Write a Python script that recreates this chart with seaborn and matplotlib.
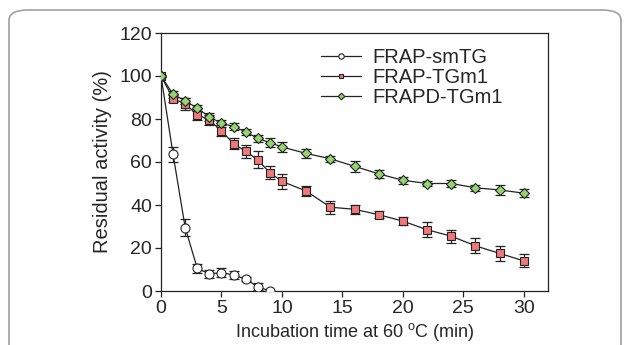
import matplotlib.pyplot as plt
import pandas as pd
import seaborn as sns
from matplotlib.patches import FancyBboxPatch

# Data
time_sm = [0, 1, 2, 3, 4, 5, 6, 7, 8, 9]
act_sm = [100, 63.5, 29.5, 10.5, 8, 8.5, 7.5, 5.5, 2, 0]
err_sm = [0, 3.5, 4, 2, 2, 2, 2, 1, 1.5, 0]

time_tg = [0, 1, 2, 3, 4, 5, 6, 7, 8, 9, 10, 12, 14, 16, 18, 20, 22, 24, 26, 28, 30]
act_tgm1 = [100, 89.5, 87, 82, 79.5, 74.5, 68.5, 65, 61, 55, 51, 46.5, 39, 38,
            35.5, 32.5, 28.5, 25.5, 21, 17.5, 14]
err_tgm1 = [0, 1.5, 3, 2.5, 2.5, 2.5, 2.5, 3, 4, 3, 3.5, 2.5, 3, 2, 1.5, 2,
            3.5, 3, 3.5, 3.5, 3]
act_frapd = [100, 91.5, 88.5, 85, 81, 78, 76.5, 74, 71, 69, 67, 64, 61.5, 58,
             54.5, 51.5, 50, 50, 48, 47, 45.5]
err_frapd = [0, 1.5, 1.5, 1.5, 2, 1.5, 1.5, 1.5, 1.5, 2, 2.5, 2, 1.5, 2.5,
             2, 1.5, 1, 1.5, 1.5, 2.5, 2]

series = ["FRAP-smTG", "FRAP-TGm1", "FRAPD-TGm1"]
x_ticks = [0, 5, 10, 15, 20, 25, 30]
y_ticks = [0, 20, 40, 60, 80, 100, 120]

df = pd.concat([
    pd.DataFrame({"time": time_sm, "act": act_sm, "err": err_sm, "series": series[0]}),
    pd.DataFrame({"time": time_tg, "act": act_tgm1, "err": err_tgm1, "series": series[1]}),
    pd.DataFrame({"time": time_tg, "act": act_frapd, "err": err_frapd, "series": series[2]}),
], ignore_index=True)

sns.set_style("ticks")
plt.rcParams["font.family"] = ["Liberation Sans", "DejaVu Sans"]
plt.rcParams["mathtext.fontset"] = "custom"
plt.rcParams["mathtext.rm"] = "Liberation Sans"

fig = plt.figure(figsize=(6.29, 3.45), dpi=100)
ax = fig.add_axes([161 / 629, 1 - 291 / 345, (548 - 161) / 629, (291 - 33) / 345])

# rounded frame around the figure
frame = FancyBboxPatch((9 / 629, -0.2), 612 / 629, 1.2 - 10 / 345,
                       boxstyle="round,pad=0,rounding_size=0.03",
                       transform=fig.transFigure, facecolor="none",
                       edgecolor="#a0a0a0", linewidth=1.2, clip_on=False)
fig.patches.append(frame)

styles = {
    "FRAP-smTG": dict(marker="o", color="white", ms=6.5),
    "FRAP-TGm1": dict(marker="s", color="#f07878", ms=5.8),
    "FRAPD-TGm1": dict(marker="D", color="#92d46e", ms=5.6),
}

for name in series:
    sub = df[df["series"] == name]
    st = styles[name]
    ax.errorbar(sub["time"], sub["act"], yerr=sub["err"], fmt="none",
                ecolor="#222222", elinewidth=0.9, capsize=3.5, capthick=0.9,
                zorder=2)
    sns.lineplot(data=sub, x="time", y="act", ax=ax, color="#222222",
                 linewidth=0.9, marker=st["marker"], markersize=st["ms"],
                 markerfacecolor=st["color"], markeredgecolor="#222222",
                 markeredgewidth=0.8, label=name, zorder=3)

ax.set_xlim(0, 32)
ax.set_ylim(0, 120)
ax.set_xticks(x_ticks)
ax.set_yticks(y_ticks)
ax.tick_params(axis="both", labelsize=14, length=4, width=0.9, direction="out",
               color="#222222", pad=2.5)
for sp in ax.spines.values():
    sp.set_linewidth(0.9)
    sp.set_color("#222222")

ax.set_xlabel(r"Incubation time at 60 $^{\mathregular{o}}$C (min)", fontsize=13,
              labelpad=3)
ax.set_ylabel("Residual activity (%)", fontsize=14.5, labelpad=5)

leg = ax.legend(loc="upper left", bbox_to_anchor=(0.382, 0.99), frameon=False,
                fontsize=14.5, handlelength=2.0, handletextpad=0.55,
                labelspacing=0.06, markerscale=0.6, borderaxespad=0.2)

fig.savefig("out.png", dpi=100)
